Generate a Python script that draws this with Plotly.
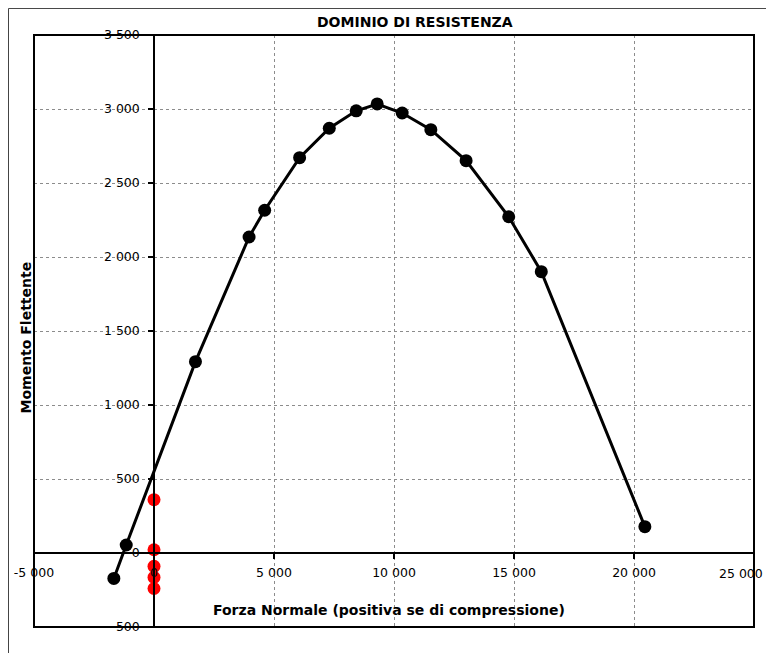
import plotly.graph_objects as go

# Domain curve (N, M)
forza_normale = [-1673, -1157, 1727, 3962, 4611, 6067, 7303, 8426, 9300, 10340,
                 11535, 13004, 14780, 16137, 20453]
momento = [-172, 54, 1293, 2135, 2316, 2671, 2870, 2988, 3034, 2973,
           2860, 2651, 2272, 1901, 178]

# Load points (red)
carichi_n = [0, 0, 0, 0, 0]
carichi_m = [360, 22, -90, -165, -240]

x_tickvals = [-5000, 0, 5000, 10000, 15000, 20000, 25000]
x_ticktext = ["-5 000", "0", "5 000", "10 000", "15 000", "20 000", "25 000"]
y_tickvals = [-500, 0, 500, 1000, 1500, 2000, 2500, 3000, 3500]
y_ticktext = ["-500", "0", "500", "1 000", "1 500", "2 000", "2 500", "3 000", "3 500"]

FONT = "DejaVu Sans"

# last x label is drawn as an annotation nudged left so it stays inside the page
x_ticktext_axis = x_ticktext[:-1] + [""]

fig = go.Figure()
fig.add_trace(go.Scatter(
    x=forza_normale, y=momento, mode="lines+markers",
    line=dict(color="black", width=3),
    marker=dict(color="black", size=13),
    showlegend=False,
))
fig.add_trace(go.Scatter(
    x=carichi_n, y=carichi_m, mode="markers",
    marker=dict(color="#ff0000", size=13),
    showlegend=False,
))

fig.update_layout(
    width=758, height=645,
    margin=dict(l=26, r=12, t=27, b=26, autoexpand=False),
    paper_bgcolor="white", plot_bgcolor="white",
    font=dict(family=FONT, size=12, color="black"),
    xaxis=dict(
        range=[-5000, 25000], domain=[0, 1], automargin=False,
        tickvals=x_tickvals, ticktext=x_ticktext_axis,
        showgrid=True, gridcolor="#8c8c8c", gridwidth=1, griddash="dot",
        zeroline=False,
        showline=True, linecolor="black", linewidth=1.5,
        ticks="outside", ticklen=5, tickcolor="black", tickwidth=1.5,
        anchor="free", position=0.125,
        ticklabelstandoff=3, ticklabeloverflow="allow",
        tickfont=dict(family=FONT, size=12.5, color="black"),
    ),
    yaxis=dict(
        range=[-500, 3500], domain=[0, 1], automargin=False,
        tickvals=y_tickvals, ticktext=y_ticktext,
        showgrid=True, gridcolor="#8c8c8c", gridwidth=1, griddash="dot",
        zeroline=False,
        showline=True, linecolor="black", linewidth=1.5,
        ticks="outside", ticklen=5, tickcolor="black", tickwidth=1.5,
        anchor="free", position=1/6,
        ticklabelstandoff=6, ticklabeloverflow="allow",
        tickfont=dict(family=FONT, size=12.5, color="black"),
    ),
    shapes=[
        dict(type="rect", xref="paper", yref="paper", x0=0, x1=1, y0=0, y1=1,
             line=dict(color="black", width=2), layer="above"),
        dict(type="rect", xref="paper", yref="paper",
             x0=-0.0354, x1=1.2, y0=-0.2, y1=1.0448,
             line=dict(color="#444444", width=1), layer="above"),
    ],
    annotations=[
        dict(text="<b>DOMINIO DI RESISTENZA</b>", xref="paper", yref="paper",
             x=0.529, y=1.022, xanchor="center", yanchor="middle",
             showarrow=False, font=dict(family=FONT, size=14, color="black")),
        dict(text="<b>Forza Normale (positiva se di compressione)</b>",
             xref="paper", yref="paper", x=(389 - 34) / 720, y=(627 - 610) / 592,
             xanchor="center", yanchor="middle", showarrow=False,
             font=dict(family=FONT, size=14, color="black")),
        dict(text="<b>Momento Flettente</b>", xref="paper", yref="paper",
             x=(25.5 - 34) / 720, y=(627 - 338) / 592, textangle=-90,
             xanchor="center", yanchor="middle", showarrow=False,
             font=dict(family=FONT, size=14, color="black")),
        dict(text=x_ticktext[-1], xref="x", yref="y",
             x=x_tickvals[-1], y=0, xshift=11, yshift=-20,
             xanchor="right", yanchor="middle", showarrow=False,
             font=dict(family=FONT, size=12.5, color="black")),
    ],
)

fig.write_html("out.html")
